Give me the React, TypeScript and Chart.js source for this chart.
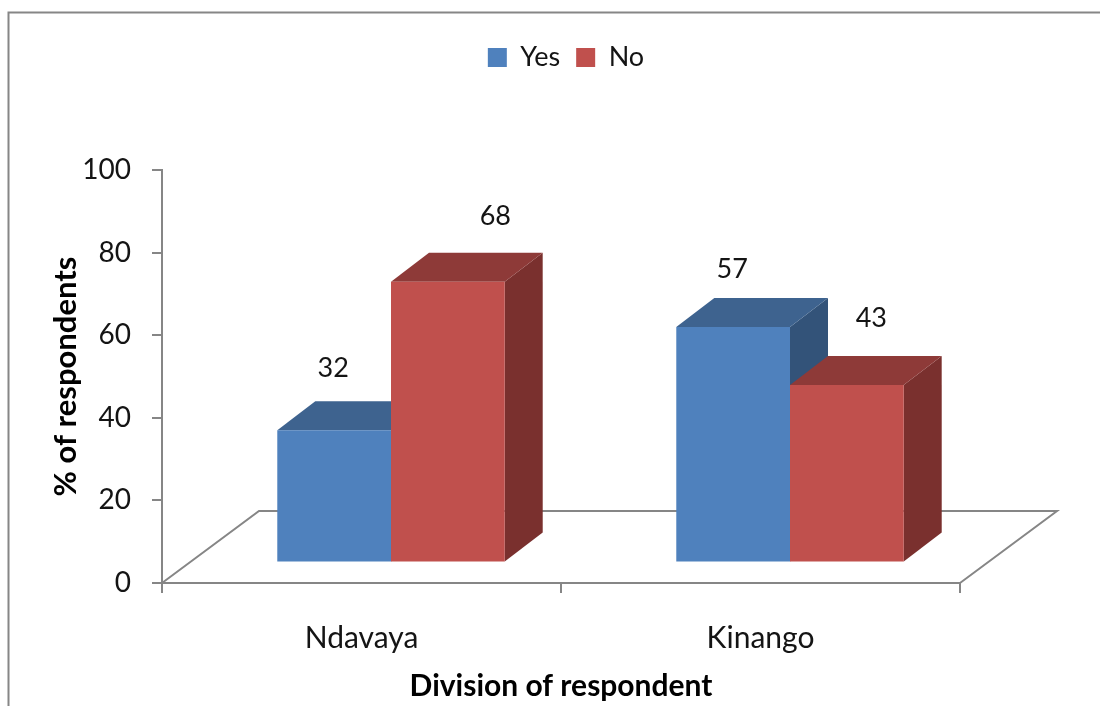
import React, { useEffect, useRef } from "react";
import { Chart, registerables } from "chart.js";

Chart.register(...registerables);

const categories = ["Ndavaya", "Kinango"];
const seriesNames = ["Yes", "No"];
const yesValues = [32, 57];
const noValues = [68, 43];
const yTicks = [0, 20, 40, 60, 80, 100];
const xTitle = "Division of respondent";
const yTitle = "% of respondents";

const FONT = "Lato, Carlito, 'Open Sans', sans-serif";
const AXIS = "#868686";
const INK = "#141414";
const FRONT = ["#4F81BD", "#C0504D"];
const TOP = ["#3E638F", "#8E3A38"];
const SIDE = ["#335379", "#7A302E"];

// Oblique projection used by the 3D look
const DEPTH_X = 38;
const DEPTH_Y = 29;
const SHIFT_X = 29.5;
const SHIFT_Y = 20.5;
const FLOOR_X = 97;
const FLOOR_Y = 72;

// Hand-placed value labels in the reference, relative to each bar's data point
const labelNudge = [
  [[28.5, -83], [29 + 48, -85.5]],
  [[28.5, -78.5], [29 + 25, -87]],
];

const threeD = {
  id: "threeD",
  afterInit(chart: any) {
    const legend = chart.legend;
    const fit = legend.fit;
    legend.fit = function () {
      fit.call(this);
      this.height = 142;
    };
  },
  afterLayout(chart: any) {
    chart.legend.left += 5;
    chart.legend.right += 5;
  },
  beforeDraw(chart: any) {
    const { ctx, width, height } = chart;
    ctx.save();
    ctx.strokeStyle = AXIS;
    ctx.lineWidth = 2;
    ctx.beginPath();
    ctx.moveTo(8.5, height);
    ctx.lineTo(8.5, 12.5);
    ctx.lineTo(width, 12.5);
    ctx.stroke();
    ctx.restore();
  },
  beforeDatasetsDraw(chart: any) {
    const { ctx, chartArea: a } = chart;
    ctx.save();
    // floor
    ctx.strokeStyle = AXIS;
    ctx.lineWidth = 2;
    ctx.beginPath();
    ctx.moveTo(a.left, a.bottom);
    ctx.lineTo(a.left + FLOOR_X, a.bottom - FLOOR_Y);
    ctx.lineTo(a.right + FLOOR_X, a.bottom - FLOOR_Y);
    ctx.lineTo(a.right, a.bottom);
    ctx.stroke();
    // side and top faces
    chart.data.datasets.forEach((_: any, di: number) => {
      chart.getDatasetMeta(di).data.forEach((el: any) => {
        const l = el.x - el.width / 2 + SHIFT_X;
        const r = el.x + el.width / 2 + SHIFT_X;
        const t = el.y - SHIFT_Y;
        const b = el.base - SHIFT_Y;
        ctx.fillStyle = SIDE[di];
        ctx.beginPath();
        ctx.moveTo(r, t);
        ctx.lineTo(r + DEPTH_X, t - DEPTH_Y);
        ctx.lineTo(r + DEPTH_X, b - DEPTH_Y);
        ctx.lineTo(r, b);
        ctx.closePath();
        ctx.fill();
        ctx.fillStyle = TOP[di];
        ctx.beginPath();
        ctx.moveTo(l, t);
        ctx.lineTo(l + DEPTH_X, t - DEPTH_Y);
        ctx.lineTo(r + DEPTH_X, t - DEPTH_Y);
        ctx.lineTo(r, t);
        ctx.closePath();
        ctx.fill();
      });
    });
    ctx.restore();
  },
  beforeDatasetDraw(chart: any) {
    chart.ctx.save();
    chart.ctx.translate(SHIFT_X, -SHIFT_Y);
  },
  afterDatasetDraw(chart: any) {
    chart.ctx.restore();
  },
  afterDatasetsDraw(chart: any) {
    const { ctx } = chart;
    ctx.save();
    ctx.fillStyle = INK;
    ctx.font = `27px ${FONT}`;
    ctx.textAlign = "center";
    ctx.textBaseline = "middle";
    chart.data.datasets.forEach((ds: any, di: number) => {
      chart.getDatasetMeta(di).data.forEach((el: any, i: number) => {
        const [dx, dy] = labelNudge[i][di];
        ctx.fillText(String(ds.data[i]), el.x + dx, el.y + dy);
      });
    });
    ctx.restore();
  },
};

export default function App() {
  const ref = useRef<HTMLCanvasElement>(null);
  useEffect(() => {
    document.body.style.margin = "0";
    const chart = new Chart(ref.current as HTMLCanvasElement, {
      type: "bar",
      data: {
        labels: categories,
        datasets: [
          { label: seriesNames[0], data: yesValues, backgroundColor: FRONT[0], borderWidth: 0 },
          { label: seriesNames[1], data: noValues, backgroundColor: FRONT[1], borderWidth: 0 },
        ],
      },
      plugins: [threeD],
      options: {
        responsive: false,
        animation: false,
        layout: { padding: { top: 28, right: 140, left: 0, bottom: 0 } },
        datasets: { bar: { categoryPercentage: 0.57, barPercentage: 1 } },
        plugins: {
          tooltip: { enabled: false },
          legend: {
            position: "top",
            fullSize: false,
            labels: {
              boxWidth: 19,
              boxHeight: 19,
              padding: 16,
              color: INK,
              font: { family: FONT, size: 27 },
            },
          },
        },
        scales: {
          x: {
            afterFit(s: any) {
              s.height = 123;
            },
            border: { color: AXIS, width: 2 },
            grid: { drawOnChartArea: false, drawTicks: true, tickLength: 10, color: AXIS, lineWidth: 2, offset: true },
            ticks: { color: INK, padding: 27, font: { family: FONT, size: 30 }, maxRotation: 0 },
            title: {
              display: true,
              text: xTitle,
              color: "#000",
              font: { family: FONT, size: 30, weight: "bold" },
              padding: { top: 0, bottom: 2 },
            },
          },
          y: {
            min: 0,
            max: 100,
            afterBuildTicks(s: any) {
              s.ticks = yTicks.map((value) => ({ value }));
            },
            afterFit(s: any) {
              s.width = 162;
            },
            border: { color: AXIS, width: 2 },
            grid: { drawOnChartArea: false, drawTicks: true, tickLength: 10, color: AXIS, lineWidth: 2 },
            ticks: { color: INK, padding: 21, font: { family: FONT, size: 28 } },
            title: {
              display: true,
              text: yTitle,
              color: "#000",
              font: { family: FONT, size: 31, weight: "bold" },
              padding: { top: 47, bottom: 0 },
            },
          },
        },
      },
    } as any);
    return () => chart.destroy();
  }, []);
  return <canvas ref={ref} width={1100} height={706} style={{ display: "block" }} />;
}
